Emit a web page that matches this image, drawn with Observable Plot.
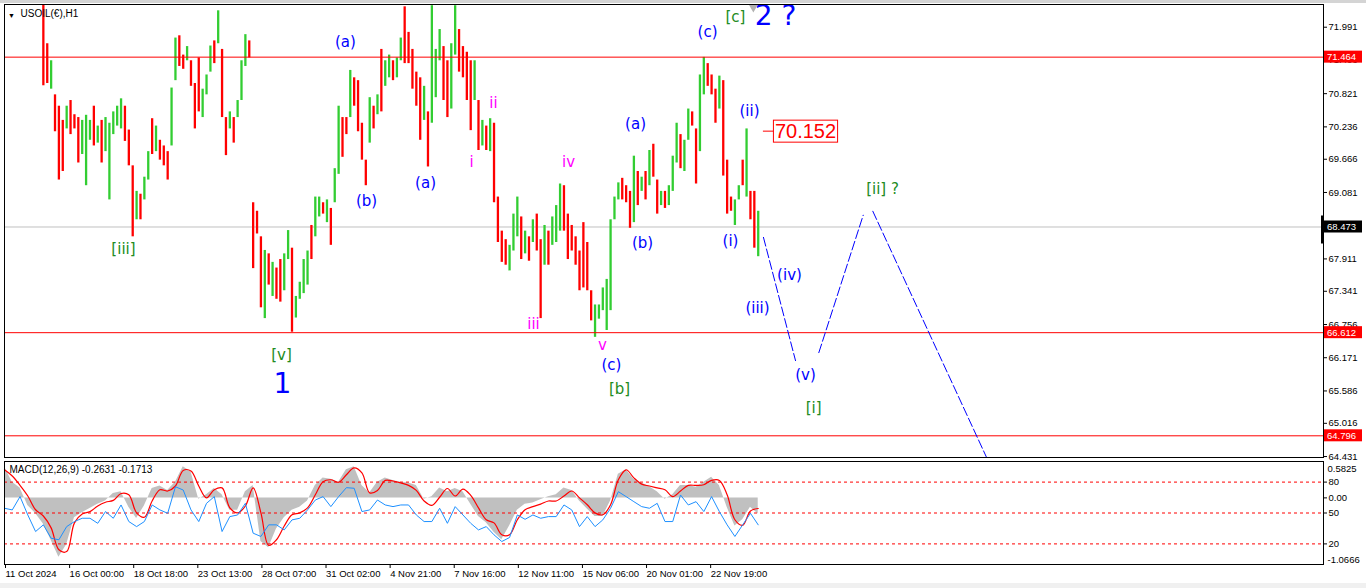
<!DOCTYPE html>
<html>
<head>
<meta charset="utf-8">
<script src="https://cdn.jsdelivr.net/npm/d3@7"></script>
<script src="https://cdn.jsdelivr.net/npm/@observablehq/plot@0.6"></script>
<style>
  html, body { margin:0; padding:0; background:#fff; }
  #chart { position:relative; width:1366px; height:588px; overflow:hidden; background:#fff; }
  #chart > svg { position:absolute; left:0; }
  .strip-top { position:absolute; left:0; top:0; width:1366px; height:3px; background:#d4d4d4; }
  .strip-bottom { position:absolute; left:0; top:583px; width:1366px; height:5px; background:#f0f0f0; }
</style>
</head>
<body>
<div id="chart"><div class="strip-top"></div><div class="strip-bottom"></div></div>
<script>
// ---------- DATA ----------
const FIRST_BAR = 40, BAR_STEP = 4;   // H1-bar index of first drawn candle, and bars per drawn candle
const candleHigh = [
72.6,71.7,71.4,70.8,70.6,70.35,70.6,70.7,70.45,70.4,
70.35,70.44,70.35,70.6,70.25,70.35,70.4,70.3,70.5,70.6,
70.73,70.6,70.18,69.55,69.1,69.05,69.35,69.8,70.38,70.25,
70.0,69.9,69.8,70.92,71.8,71.84,71.5,71.65,71.4,71.0,
71.45,70.9,71.15,71.66,71.75,72.28,71.6,70.4,70.5,70.4,
70.7,71.4,71.86,71.75,68.9,68.75,68.3,68.06,68.0,67.85,
67.75,67.9,68.0,68.41,68.1,67.25,67.5,67.9,68.05,68.5,
69.0,69.0,68.9,68.95,68.8,69.5,70.6,70.4,70.4,71.23,
71.1,71.05,70.3,69.65,70.75,70.6,70.8,71.6,71.4,71.5,
71.4,71.45,71.8,72.35,71.9,71.6,71.2,71.1,70.95,70.5,
72.37,71.6,71.95,71.65,71.4,71.7,72.37,71.95,71.65,71.55,
71.4,71.4,70.7,70.35,70.25,70.38,70.3,69.0,68.4,68.25,
68.15,68.7,69.0,68.65,68.4,68.3,68.6,68.7,68.25,68.5,
68.4,68.65,68.85,69.23,69.2,68.7,68.5,68.3,68.05,68.55,
68.2,67.35,67.1,67.1,67.4,67.55,68.6,69.0,69.25,69.33,
69.2,69.1,69.72,69.45,69.35,69.45,69.82,69.93,69.3,69.1,
69.1,69.2,69.72,70.3,70.1,70.0,70.55,70.5,70.2,71.15,
71.46,71.35,71.15,70.9,71.13,71.05,69.65,69.0,68.95,69.2,
69.65,70.2,69.1,69.1,68.75];
const candleLow = [
70.96,71.0,70.9,70.15,69.3,69.45,70.2,70.1,70.2,69.6,
69.75,69.2,70.0,69.9,69.95,69.6,69.8,68.95,70.1,70.25,
70.2,69.98,69.55,68.3,68.6,68.6,68.95,69.3,69.75,69.8,
69.65,69.55,69.3,69.9,71.05,71.3,71.25,71.4,70.95,70.2,
70.5,70.4,70.8,71.2,71.35,71.7,70.4,69.73,70.2,69.95,
70.4,70.7,71.3,71.45,67.74,68.35,67.05,66.86,67.45,67.25,
67.2,67.15,67.35,67.9,66.62,66.87,67.2,67.3,67.45,67.9,
68.3,68.65,68.7,68.55,68.15,68.9,69.4,69.7,70.1,70.4,
70.6,70.15,69.65,69.2,69.95,70.2,70.45,70.5,70.95,71.1,
71.05,71.1,71.4,71.35,71.35,70.9,70.6,70.0,70.35,69.53,
70.3,70.75,71.4,70.7,70.4,70.55,71.5,71.2,71.1,70.7,
70.17,70.7,69.82,69.9,69.82,69.8,68.9,68.2,67.85,67.8,
67.7,68.05,68.3,67.9,68.0,67.87,68.2,68.05,66.86,67.8,
67.8,68.15,68.2,68.4,68.4,67.9,68.05,67.8,67.35,67.4,
67.35,66.82,66.53,66.85,67.0,66.65,67.0,68.6,68.95,68.95,
68.9,68.45,68.55,68.85,69.1,68.95,69.2,69.35,68.7,68.85,
68.8,68.85,69.1,69.6,69.5,69.45,70.0,70.25,69.23,69.8,
70.8,70.95,70.8,70.3,70.55,69.37,68.7,68.75,68.5,68.95,
69.2,69.0,68.6,68.1,67.95];
const candleDir = ("dduddduddd uuududuuuu uddduduudu ddduuddudd duuududdud " +
  "uuuddddudu dduuduuuud uududuuddu ddddududuu duudddddud " +
  "uuudduuddd dudududddd uuudududdu duuudddddd dduuuuuuud " +
  "ddudududdu duuuduuddu uddduddduu duddu").replace(/\s+/g, "");

// price-axis ticks (68.496 is fully hidden behind the current-price box in the reference)
const priceTicks = [71.991,71.406,70.821,70.236,69.666,69.081,67.911,67.341,66.756,66.171,65.586,65.016,64.431];
const levelLines = [71.464, 66.612, 64.796];
const currentPrice = 68.473;
const markPrice = 70.152, markBar = 825.2;
const shiftBar = 771;

const projSeg   = [1, 1, 2, 2, 3, 3];
const projBar   = [781.4, 814.4, 838.4, 884.1, 894.0, 1012.6];
const projPrice = [68.29, 66.12, 66.26, 68.68, 68.75, 64.36];

const waveText   = ["(a)","(b)","(a)","[iii]","[v]","1","i","ii","iii","iv","v","(c)","[b]","(a)","(b)","(c)","[c]","2 ?","(ii)","(i)","(iv)","(iii)","(v)","[i]","[ii] ?"];
const waveBar    = [351,372.7,433.5,122.5,285.2,286.2,480.8,503.5,544.6,580.7,615.7,624.9,633.2,649.7,656.9,723.8,752.6,793.8,767,747.5,808.2,775.3,824.7,833,904];
const wavePrice  = [71.72,68.92,69.24,68.09,66.22,65.70,69.61,70.65,66.77,69.61,66.40,66.04,65.61,70.29,68.19,71.91,72.16,72.18,70.52,68.22,67.63,67.04,65.87,65.28,69.14];
const waveDegree = ["minor","minor","minor","minute","minute","primary","sub","sub","sub","sub","sub","minor","minute","minor","minor","minor","minute","primary","minor","minor","minor","minor","minor","minute","minute"];

const timeTickBars = [0,66,132,198,264,330,396,462,528,594,660,726];
const timeLabels = ["11 Oct 2024","16 Oct 00:00","18 Oct 18:00","23 Oct 13:00","28 Oct 07:00","31 Oct 02:00","4 Nov 21:00","7 Nov 16:00","12 Nov 11:00","15 Nov 06:00","20 Nov 01:00","22 Nov 19:00"];

const MACD_STEP = 8;
const macdHist = [
0.5,0.25,0.16,-0.12,-0.25,-0.42,-0.68,-0.95,-0.75,-0.32,
-0.24,-0.17,-0.1,-0.05,0.07,0.1,-0.15,-0.33,-0.13,0.15,
0.19,0.12,0.25,0.5,0.42,-0.02,0.05,0.15,0.05,-0.2,
-0.2,0.1,0.2,-0.7,-0.8,-0.5,-0.32,-0.2,-0.15,-0.05,
0.2,0.32,0.3,0.25,0.45,0.5,0.2,0.08,0.25,0.32,
0.28,0.25,0.24,0.2,-0.02,0.02,0.16,0.1,0.15,0.1,
-0.1,-0.3,-0.4,-0.55,-0.67,-0.45,-0.2,-0.1,-0.08,-0.03,
0.02,0.05,0.16,0.12,-0.05,-0.18,-0.3,-0.3,-0.05,0.38,
0.45,0.3,0.24,0.18,0.1,-0.02,0.05,0.2,0.2,0.17,
0.25,0.33,0.2,-0.15,-0.45,-0.35,-0.15,-0.26];
const macdSignal = [
0.45,0.35,0.2,0.03,-0.19,-0.29,-0.48,-0.83,-0.86,-0.4,
-0.26,-0.22,-0.13,-0.07,-0.04,0.07,0.05,-0.24,-0.31,-0.05,
0.13,0.11,0.19,0.44,0.43,0.19,0,0.13,0.16,-0.16,
-0.24,-0.13,0.16,-0.24,-0.76,-0.67,-0.45,-0.27,-0.24,-0.16,
0.05,0.26,0.29,0.25,0.37,0.48,0.4,0.08,0.12,0.28,
0.27,0.24,0.2,0.12,-0.05,-0.12,0.01,0.15,0.03,0.14,
0.04,-0.16,-0.35,-0.4,-0.59,-0.59,-0.35,-0.19,-0.14,-0.1,
-0.05,-0.05,0.03,0.11,0,-0.11,-0.24,-0.27,-0.11,0.29,
0.45,0.32,0.22,0.19,0.16,0.13,0.02,0.11,0.2,0.2,
0.21,0.28,0.28,0.05,-0.35,-0.44,-0.21,-0.17];
const oscValues = [
54.6,53,65.9,48.1,32,38.5,25.5,24,36.8,41.7,
44.9,44.9,40,51.4,44.9,57.8,41.7,36.8,41.7,57.8,
53,49.7,75.5,72.3,53,41.7,59.4,65.9,32,46.5,
48.1,59.4,30.4,27.2,38.5,38.5,33.6,43.3,44.9,53,
62.6,65.9,56.2,65.9,74.6,74,51.4,53,62.6,57.8,
56.2,57.8,57.8,48.1,41.7,41.7,54.6,40,56.2,48.1,
40,33.6,36.8,28.8,22.3,26.2,48.1,43.9,48.1,44.9,
46.5,46.5,57.8,53,36.8,46.5,36.8,43.3,54.6,70.7,
65.9,61,56.2,54.6,59.4,41.7,41.7,67.5,57.8,61,
51.4,65.9,51.4,38.5,27.2,38.5,49.7,38.5];
const oscLevels = [80, 50, 20];
const macdRange = [-1.0666, 0.5825];
const macdLast = "-0.2631", signalLast = "-0.1713";
const symbolTitle = "USOIL(€),H1";

// ---------- BUILD ----------
const chart = document.getElementById("chart");
const xDomain = [0, 1358];
const baseStyle = {background:"transparent", fontFamily:"'Liberation Sans', Arial, sans-serif", fontSize:"9.5px", color:"#000", overflow:"visible"};

const n = Math.min(candleHigh.length, candleLow.length, candleDir.length);
const candles = d3.range(n).map(i => ({bar: FIRST_BAR + BAR_STEP*i, high: candleHigh[i], low: candleLow[i], up: candleDir[i] === "u"}));
const projection = projSeg.map((s,i) => ({seg:s, bar:projBar[i], price:projPrice[i]}));
const waves = waveText.map((t,i) => ({text:t, bar:waveBar[i], price:wavePrice[i], degree:waveDegree[i]}));
const degreeStyle = {
  minor:   {fill:"#0000ff", fontSize:15},
  minute:  {fill:"#228b22", fontSize:15},
  sub:     {fill:"#ff00ff", fontSize:15},
  primary: {fill:"#0000ff", fontSize:28}
};
const waveMarks = Object.entries(degreeStyle).map(([deg, st]) =>
  Plot.text(waves.filter(d => d.degree === deg), {x:"bar", y:"price", text:"text", fill:st.fill, fontSize:st.fontSize, fontFamily:"'DejaVu Sans', Verdana, sans-serif", lineAnchor:"middle", textAnchor:"middle"}));

const main = Plot.plot({
  width:1366, height:458,
  marginTop:4, marginRight:43, marginBottom:1, marginLeft:4,
  x:{domain:xDomain, axis:null},
  y:{domain:[64.414, 72.391]},
  style: baseStyle,
  marks:[
    Plot.ruleY([currentPrice], {stroke:"#c0c0c0", strokeWidth:1}),
    Plot.ruleX(candles.filter(d => d.up), {x:"bar", y1:"low", y2:"high", stroke:"#32cd32", strokeWidth:2.3, clip:true}),
    Plot.ruleX(candles.filter(d => !d.up), {x:"bar", y1:"low", y2:"high", stroke:"#ff0000", strokeWidth:2.3, clip:true}),
    Plot.ruleY(levelLines, {stroke:"#ff0000", strokeWidth:1}),
    Plot.line(projection, {x:"bar", y:"price", z:"seg", stroke:"#0000ff", strokeWidth:1, strokeDasharray:"9,3", clip:true}),
    ...waveMarks,
    Plot.dot([shiftBar], {x:d => d, frameAnchor:"top", dy:3, symbol:"triangle", r:3.2, fill:"#b0b0b0", stroke:null, rotate:180}),
    Plot.text(["▼"], {text:d => d, frameAnchor:"top-left", dx:7, dy:11, fontSize:7, textAnchor:"middle", lineAnchor:"middle", fill:"#000"}),
    Plot.text([symbolTitle], {text:d => d, frameAnchor:"top-left", dx:16, dy:5, fontSize:10, textAnchor:"start", lineAnchor:"top", fill:"#000"}),
    Plot.axisY({anchor:"right", ticks:priceTicks, tickFormat:d => d.toFixed(3), tickSize:3, tickPadding:2, label:null}),
    Plot.frame({stroke:"#000"})
  ]
});
main.style.position = "absolute"; main.style.top = "0px"; main.style.left = "0px";
chart.appendChild(main);

// Price markers on the axis and the 70.152 box, placed through Plot's own scales
{
  const xs = main.scale("x"), ys = main.scale("y");
  const right = xs.range[1];
  const g = d3.select(main).append("g")
    .attr("font-family", "'Liberation Sans', Arial, sans-serif")
    .attr("text-anchor", "start");
  const yc = ys.apply(currentPrice);
  g.append("rect").attr("x", right - 2).attr("y", yc - 11).attr("width", 3).attr("height", 28).attr("fill", "#000");
  const markers = levelLines.map(p => ({p, bg:"#ff0000"})).concat([{p:currentPrice, bg:"#000"}]);
  markers.forEach(m => {
    const y = ys.apply(m.p);
    g.append("rect").attr("x", right + 1).attr("y", y - 6).attr("width", 38).attr("height", 12).attr("fill", m.bg);
    g.append("text").attr("x", right + 4).attr("y", y).attr("dy", "0.35em").attr("text-anchor", "start")
      .attr("fill", "#fff").attr("font-size", 9.5).text(m.p.toFixed(3));
  });
  const cx = xs.apply(markBar), cy = ys.apply(markPrice);
  const t = g.append("text").attr("x", cx).attr("y", cy).attr("dy", "0.35em").attr("text-anchor", "middle")
    .attr("fill", "#ff0000").attr("font-size", 20).text(markPrice.toFixed(3));
  const bb = t.node().getBBox();
  g.insert("rect", "text:last-child").attr("x", bb.x - 1.5).attr("y", bb.y).attr("width", bb.width + 3).attr("height", bb.height)
    .attr("fill", "#fff").attr("stroke", "#ff0000").attr("stroke-width", 1);
  g.append("line").attr("x1", bb.x - 12).attr("x2", bb.x - 1.5).attr("y1", cy).attr("y2", cy).attr("stroke", "#ff0000");
}

// ---------- MACD panel ----------
const toMacd = v => macdRange[0] + v / 100 * (macdRange[1] - macdRange[0]);
const m = Math.min(macdHist.length, macdSignal.length, oscValues.length);
const macdData = d3.range(m).map(i => ({bar: i*MACD_STEP, hist: macdHist[i], sig: macdSignal[i], osc: toMacd(oscValues[i])}));
const macdTicks = [0, ...oscLevels.map(toMacd)];
const macdTickText = ["0.00", ...oscLevels.map(String)];

const macd = Plot.plot({
  width:1366, height:130,
  marginTop:3, marginRight:43, marginBottom:24, marginLeft:4,
  x:{domain:xDomain},
  y:{domain:macdRange},
  style: baseStyle,
  marks:[
    Plot.areaY(macdData, {x:"bar", y1:0, y2:"hist", fill:"#c0c0c0", curve:"linear"}),
    Plot.ruleY(oscLevels.map(toMacd), {stroke:"#ff0000", strokeWidth:1, strokeDasharray:"3,3"}),
    Plot.line(macdData, {x:"bar", y:"sig", stroke:"#ff0000", strokeWidth:1.2, curve:"catmull-rom"}),
    Plot.line(macdData, {x:"bar", y:"osc", stroke:"#1e90ff", strokeWidth:1}),
    Plot.axisX({ticks:timeTickBars, tickFormat:d => timeLabels[timeTickBars.indexOf(d)], tickSize:4, tickPadding:2, textAnchor:"start", dx:1, label:null}),
    Plot.axisY({anchor:"right", ticks:macdTicks, tickFormat:d => macdTickText[macdTicks.indexOf(d)], tickSize:3, tickPadding:2, label:null}),
    Plot.text([macdRange[1].toFixed(4)], {text:d => d, frameAnchor:"top-right", dx:4, dy:7, textAnchor:"start", lineAnchor:"middle", fill:"#000"}),
    Plot.text([macdRange[0].toFixed(4)], {text:d => d, frameAnchor:"bottom-right", dx:4, dy:-5, textAnchor:"start", lineAnchor:"middle", fill:"#000"}),
    Plot.text([`MACD(12,26,9) ${macdLast} ${signalLast}`], {text:d => d, frameAnchor:"top-left", dx:5, dy:4, fontSize:10, textAnchor:"start", lineAnchor:"top", fill:"#000"}),
    Plot.frame({stroke:"#000"})
  ]
});
macd.style.position = "absolute"; macd.style.top = "458px"; macd.style.left = "0px";
chart.appendChild(macd);
</script>
</body>
</html>
